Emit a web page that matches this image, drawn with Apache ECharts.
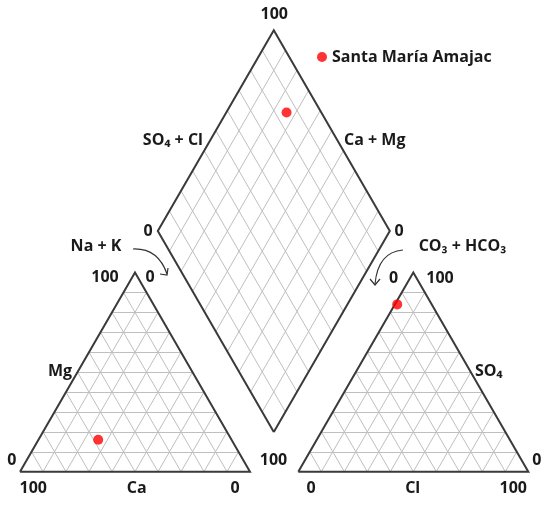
<!DOCTYPE html>
<html>
<head>
<meta charset="UTF-8">
<script src="https://cdn.jsdelivr.net/npm/echarts@6/dist/echarts.min.js"></script>
<style>
body { margin:0; padding:0; background:#fff; }
#chart { width:550px; height:507px; }
</style>
</head>
<body><div id="chart"></div>
<script>
// sample (meq %)
var samples = ['Santa María Amajac'];
var ca = [58];
var mg = [16];
var naK = [26];
var hco3 = [15];
var so4 = [84];
var cl = [1];
var ticks = ['0', '100'];

// layout (pixels == axis units, grid fills the canvas)
var S = 230, H = S * Math.sqrt(3) / 2;
var base = 471.7;
var catO = [20, base];      // Ca = 100 corner
var anO = [298.3, base];    // CO3+HCO3 = 100 corner
var DS = 232, DH = DS * Math.sqrt(3) / 2;
var dB = [273.8, 432];
var dL = [dB[0] - DS / 2, dB[1] - DH];
var dR = [dB[0] + DS / 2, dB[1] - DH];
var dT = [dB[0], dB[1] - 2 * DH];

function lerp(p, q, t) { return [p[0] + (q[0] - p[0]) * t, p[1] + (q[1] - p[1]) * t]; }
function tri(o) { return [o, [o[0] + S, o[1]], [o[0] + S / 2, o[1] - H]]; }

function triGrid(o) {
  var v = tri(o), segs = [];
  for (var i = 1; i < 10; i++) {
    var t = i / 10;
    for (var k = 0; k < 3; k++) {
      var a = v[k], b = v[(k + 1) % 3], c = v[(k + 2) % 3];
      segs.push({ coords: [lerp(a, b, t), lerp(a, c, t)] });
    }
  }
  return segs;
}
function diamondGrid() {
  var segs = [];
  for (var i = 1; i < 10; i++) {
    var t = i / 10;
    segs.push({ coords: [lerp(dB, dR, t), lerp(dL, dT, t)] });
    segs.push({ coords: [lerp(dB, dL, t), lerp(dR, dT, t)] });
  }
  return segs;
}
var gridSegs = triGrid(catO).concat(triGrid(anO), diamondGrid());
function closed(pts) { return { coords: pts.concat([pts[0]]) }; }
var outlines = [closed(tri(catO)), closed(tri(anO)), closed([dB, dL, dT, dR])];

// project the sample into the three fields
var pts = [];
samples.forEach(function (s, i) {
  pts.push([catO[0] + S * (naK[i] + mg[i] / 2) / 100, base - H * mg[i] / 100]);
  pts.push([anO[0] + S * (cl[i] + so4[i] / 2) / 100, base - H * so4[i] / 100]);
  var u = (ca[i] + mg[i]) / 100, w = (so4[i] + cl[i]) / 100;
  pts.push([dB[0] + u * (dL[0] - dB[0]) + w * (dR[0] - dB[0]),
            dB[1] + u * (dL[1] - dB[1]) + w * (dR[1] - dB[1])]);
});

var font = 'bold 16px "Open Sans", sans-serif';
function txt(s, x, y, align) {
  return { type: 'text', x: x, y: y, z: 10,
    style: { text: s, font: font, fill: '#1a1a1a', align: align || 'center', verticalAlign: 'middle' } };
}
var labels = [
  txt(ticks[1], 274.3, 14),
  txt('SO₄ + Cl', 203, 140, 'right'),
  txt('Ca + Mg', 344, 140, 'left'),
  txt(ticks[0], 148, 231), txt(ticks[0], 399, 231),
  txt('Na + K', 96, 246),
  txt('CO₃ + HCO₃', 462.5, 246.5),
  txt(ticks[1], 105, 277), txt(ticks[0], 150, 277),
  txt(ticks[0], 393.5, 278.5), txt(ticks[1], 440, 278.5),
  txt('Mg', 72, 371, 'right'),
  txt('SO₄', 475, 371, 'left'),
  txt(ticks[0], 11.7, 460), txt(ticks[1], 273.5, 460), txt(ticks[0], 536.7, 460),
  txt(ticks[1], 33.3, 488), txt('Ca', 136.7, 488), txt(ticks[0], 235, 488),
  txt(ticks[0], 311, 488), txt('Cl', 412.7, 488), txt(ticks[1], 513.3, 488)
];
var arrowStyle = { stroke: '#333', lineWidth: 1.2, fill: null };
var arrows = [
  { type: 'bezierCurve', shape: { x1: 133, y1: 249, cpx1: 158, cpy1: 248, x2: 167, y2: 274 }, style: arrowStyle },
  { type: 'polyline', shape: { points: [[160, 274], [167, 275], [168, 268]] }, style: arrowStyle },
  { type: 'bezierCurve', shape: { x1: 403, y1: 250, cpx1: 378, cpy1: 252, x2: 375, y2: 284 }, style: arrowStyle },
  { type: 'polyline', shape: { points: [[370, 279], [375, 285], [380, 279]] }, style: arrowStyle }
];

var chart = echarts.init(document.getElementById('chart'));
chart.setOption({
  animation: false,
  backgroundColor: '#fff',
  grid: { left: 0, right: 0, top: 0, bottom: 0 },
  xAxis: { type: 'value', min: 0, max: 550, show: false },
  yAxis: { type: 'value', min: 0, max: 507, inverse: true, show: false },
  legend: {
    data: samples, left: 312, top: 44, icon: 'circle', itemWidth: 10, itemHeight: 10, itemGap: 5,
    textStyle: { fontFamily: 'Open Sans', fontWeight: 'bold', fontSize: 16, color: '#1a1a1a' }
  },
  graphic: labels.concat(arrows),
  series: [
    { type: 'lines', coordinateSystem: 'cartesian2d', data: gridSegs, silent: true,
      lineStyle: { color: '#bfbfbf', width: 1, opacity: 1 } },
    { type: 'lines', coordinateSystem: 'cartesian2d', polyline: true, data: outlines, silent: true,
      lineStyle: { color: '#3a3a3a', width: 2, opacity: 1 } },
    { type: 'scatter', name: samples[0], data: pts, symbolSize: 10, z: 5,
      itemStyle: { color: '#ff0000' } }
  ]
});
</script>
</body></html>
